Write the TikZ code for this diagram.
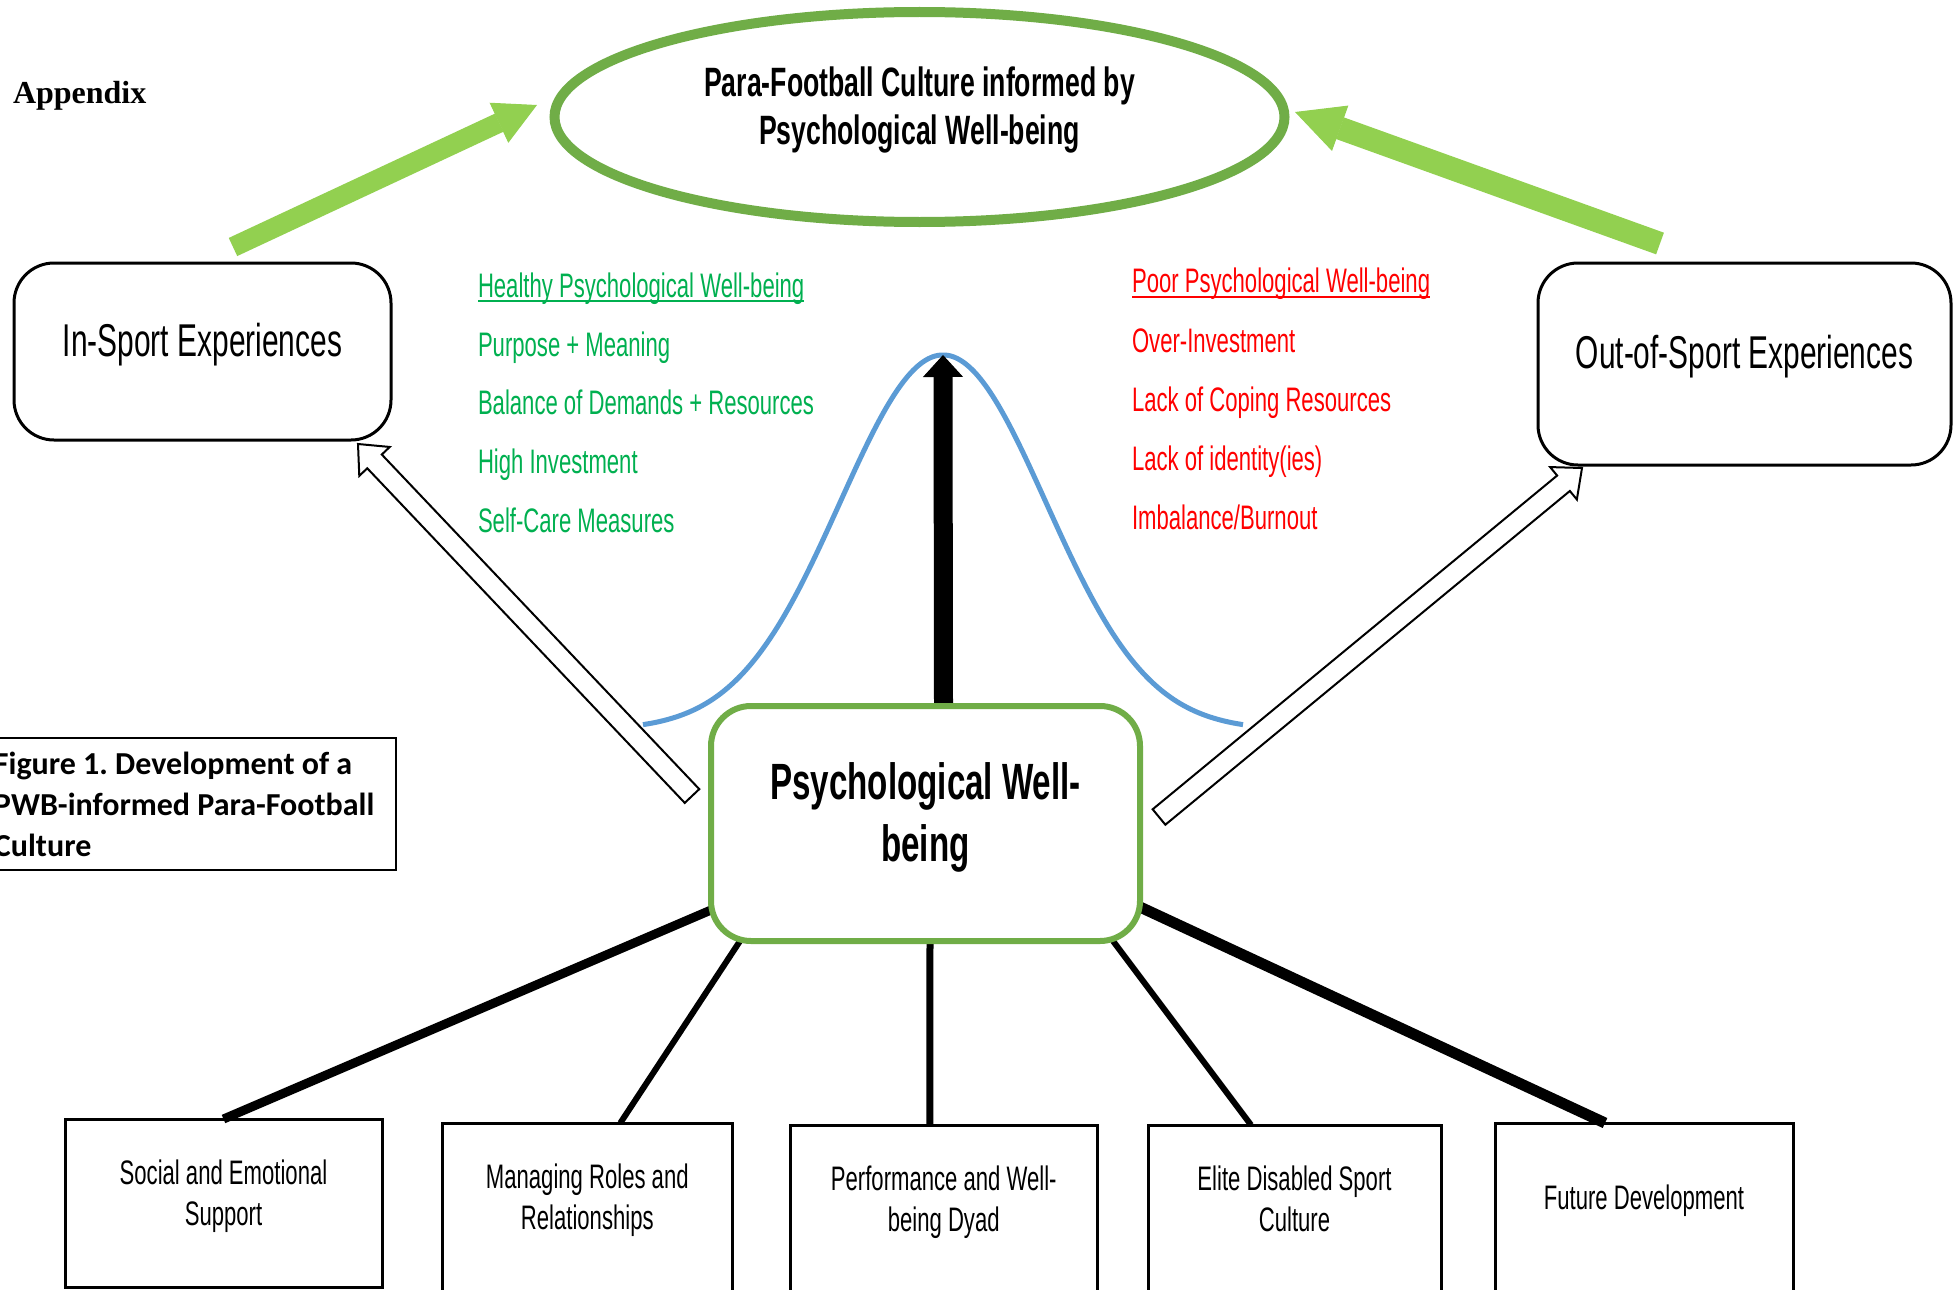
\documentclass[tikz,border=0pt]{standalone}
\usepackage{fontspec}
\setmainfont{Liberation Sans}
% narrow display face for the diagram labels
\newfontfamily\agency[FakeStretch=0.65]{Liberation Sans}
\newfontfamily\captionfont{Carlito}
\newfontfamily\serifhead{Liberation Serif}
\usetikzlibrary{arrows.meta,shapes.geometric,calc}

\definecolor{leafgreen}{HTML}{70AD47}
\definecolor{limegreen}{HTML}{92D050}
\definecolor{goodgreen}{HTML}{00B050}
\definecolor{badred}{HTML}{FF0000}
\definecolor{bellblue}{HTML}{5B9BD5}

\newcommand\fs[2]{\fontsize{#1}{#2}\selectfont}
% invisible depth to move a text block up inside its shape
\newcommand\depthpad[1]{\rule[-#1]{0pt}{#1}}

\tikzset{
  expbox/.style={draw=black, line width=3pt, rounded corners=40pt, fill=white,
    font=\agency\fs{46}{55}, text depth=24pt},
  topicbox/.style={draw=black, line width=3pt, fill=white, anchor=north west},
  topictext/.style={font=\agency\fs{34}{41}, align=flush center, inner sep=0pt, anchor=north},
  goodtext/.style={font=\agency\fs{34}{41}, text=goodgreen, inner sep=0pt, anchor=base west},
  badtext/.style={font=\agency\fs{34}{41}, text=badred, inner sep=0pt, anchor=base west},
  spoke/.style={line width=#1, draw=black},
  liftarrow/.style={draw=limegreen, line width=#1},
  hollow/.style={draw=black, line width=2pt, fill=white, line join=miter},
}

% outlined block arrow from #1 (tail) to #2 (tip)
\newcommand\hollowarrow[2]{%
  \draw[hollow] let \p1=(#1), \p2=(#2), \n1={atan2(\y2-\y1,\x2-\x1)} in
    ($(\p1)+(\n1+90:10pt)$) --
    ($(\p2)+(\n1+180:24pt)+(\n1+90:10pt)$) --
    ($(\p2)+(\n1+180:24pt)+(\n1+90:21pt)$) --
    (\p2) --
    ($(\p2)+(\n1+180:24pt)+(\n1-90:21pt)$) --
    ($(\p2)+(\n1+180:24pt)+(\n1-90:10pt)$) --
    ($(\p1)+(\n1-90:10pt)$) -- cycle;}

\begin{document}
\begin{tikzpicture}[x=1pt, y=-1pt, outer sep=0pt]
\useasboundingbox (0,0) rectangle (1955,1290);
\clip (0,0) rectangle (1955,1290);
\fill[white] (0,0) rectangle (1955,1290);

% heading
\node[font=\serifhead\bfseries\fs{32}{38}, anchor=base west, inner sep=0pt] (appendix) at (13,103) {Appendix};

% bell curve behind the centre
\draw[bellblue, line width=5pt] plot[domain=-300:300, samples=121, smooth]
  ({943+\x},{730-375*exp(-0.5*pow(\x/103,2))});
\coordinate (bellpeak) at (943,355);

% outcome ellipse
\node[ellipse, draw=leafgreen, line width=10pt, fill=white, minimum width=730pt,
  minimum height=210pt, inner sep=0pt, align=flush center,
  font=\agency\bfseries\fs{41}{48}] (culture) at (919.5,117)
  {Para-Football Culture informed by\\Psychological Well-being\depthpad{22pt}};

% experience boxes
\node[expbox, minimum width=377pt, minimum height=177pt] (ins) at (202.5,351.5) {In-Sport Experiences};
\node[expbox, minimum width=413pt, minimum height=202pt] (out) at (1744.5,364) {Out-of-Sport Experiences};

% caption box
\node[draw=black, line width=2pt, minimum width=406pt, minimum height=132pt,
  text width=398pt, inner xsep=4pt, inner ysep=0pt, align=flush left,
  font=\captionfont\bfseries\fs{32}{41}\frenchspacing] (caption) at (193,804)
  {Figure 1. Development of a\\PWB-informed Para-Football\\Culture};

% theme boxes along the bottom
\node[topicbox, minimum width=317pt, minimum height=168pt] (b1) at (65,1119) {};
\node[topicbox, minimum width=289.4pt, minimum height=300pt] (b2) at (442.6,1123) {};
\node[topicbox, minimum width=306.5pt, minimum height=300pt] (b3) at (790.5,1125) {};
\node[topicbox, minimum width=293pt, minimum height=300pt] (b4) at (1148,1125) {};
\node[topicbox, minimum width=298pt, minimum height=300pt] (b5) at (1495,1123) {};

\node[topictext] (t1) at ([yshift=-41pt]b1.north) {Social and Emotional\\Support};
\node[topictext] (t2) at ([yshift=-41pt]b2.north) {Managing Roles and\\Relationships};
\node[topictext] (t3) at ([yshift=-41pt]b3.north) {Performance and Well-\\being Dyad};
\node[topictext] (t4) at ([yshift=-41pt]b4.north) {Elite Disabled Sport\\Culture};
\node[topictext] (t5) at ([yshift=-62pt]b5.north) {Future Development};

% central well-being box (placed as a coordinate frame first)
\path (925.5,823.5) coordinate (pwbc);
\node[draw=none, minimum width=429pt, minimum height=235pt] (pwbframe) at (pwbc) {};

% spokes to the themes
\draw[spoke=9pt]  ([yshift=31pt]pwbframe.south west) -- (b1.north);
\draw[spoke=6pt]  ([xshift=29pt]pwbframe.south west) -- ([xshift=33pt]b2.north);
\draw[spoke=7pt]  ([xshift=4.5pt]pwbframe.south) -- ([xshift=-14pt]b3.north);
\draw[spoke=6pt]  ([xshift=-27pt]pwbframe.south east) -- ([xshift=-43.5pt]b4.north);
\draw[spoke=11pt] ([yshift=34pt]pwbframe.south east) -- ([xshift=-39pt]b5.north);

% upward arrow to the peak
\draw[line width=19pt, -{Triangle[length=22pt,width=40pt,line width=1pt]}]
  ([xshift=18pt]pwbframe.north) -- (bellpeak);

\node[draw=leafgreen, line width=6pt, rounded corners=40pt, fill=white,
  minimum width=429pt, minimum height=235pt, align=flush center,
  font=\agency\bfseries\fs{51}{62}] (pwb) at (pwbc)
  {Psychological Well-\\being\depthpad{22pt}};

% green arrows up to the ellipse
\draw[liftarrow=20pt, -{Triangle[length=42pt,width=44pt,line width=1pt]}]
  ([xshift=30.5pt,yshift=16pt]ins.north) -- ([xshift=-17.5pt,yshift=12pt]culture.west);
\draw[liftarrow=23pt, -{Triangle[length=48pt,width=48pt,line width=1pt]}]
  ([xshift=-84.5pt,yshift=19.5pt]out.north) -- ([xshift=10.5pt,yshift=5pt]culture.east);

% outlined arrows from the centre to the experience boxes
\coordinate (insTail) at ([xshift=-19pt,yshift=27.5pt]pwb.west);
\coordinate (insTip) at ([xshift=-33pt,yshift=-4pt]ins.south east);
\coordinate (outTail) at ([xshift=19pt,yshift=6.5pt]pwb.east);
\coordinate (outTip) at ([xshift=44pt,yshift=-3pt]out.south west);
\hollowarrow{insTail}{insTip}
\hollowarrow{outTail}{outTip}

% healthy side
\node[goodtext] (g0) at (478,297) {Healthy Psychological Well-being};
\node[goodtext] (g1) at (478,356) {Purpose + Meaning};
\node[goodtext] (g2) at (478,414) {Balance of Demands + Resources};
\node[goodtext] (g3) at (478,473) {High Investment};
\node[goodtext] (g4) at (478,532) {Self-Care Measures};
\draw[goodgreen, line width=2pt] ([yshift=-4pt]g0.base west) -- ([yshift=-4pt]g0.base east);

% poor side
\node[badtext] (r0) at (1132,292) {Poor Psychological Well-being};
\node[badtext] (r1) at (1132,352) {Over-Investment};
\node[badtext] (r2) at (1132,411) {Lack of Coping Resources};
\node[badtext] (r3) at (1132,470) {Lack of identity(ies)};
\node[badtext] (r4) at (1132,529) {Imbalance/Burnout};
\draw[badred, line width=2pt] ([yshift=-5pt]r0.base west) -- ([yshift=-5pt]r0.base east);
\end{tikzpicture}
\end{document}
